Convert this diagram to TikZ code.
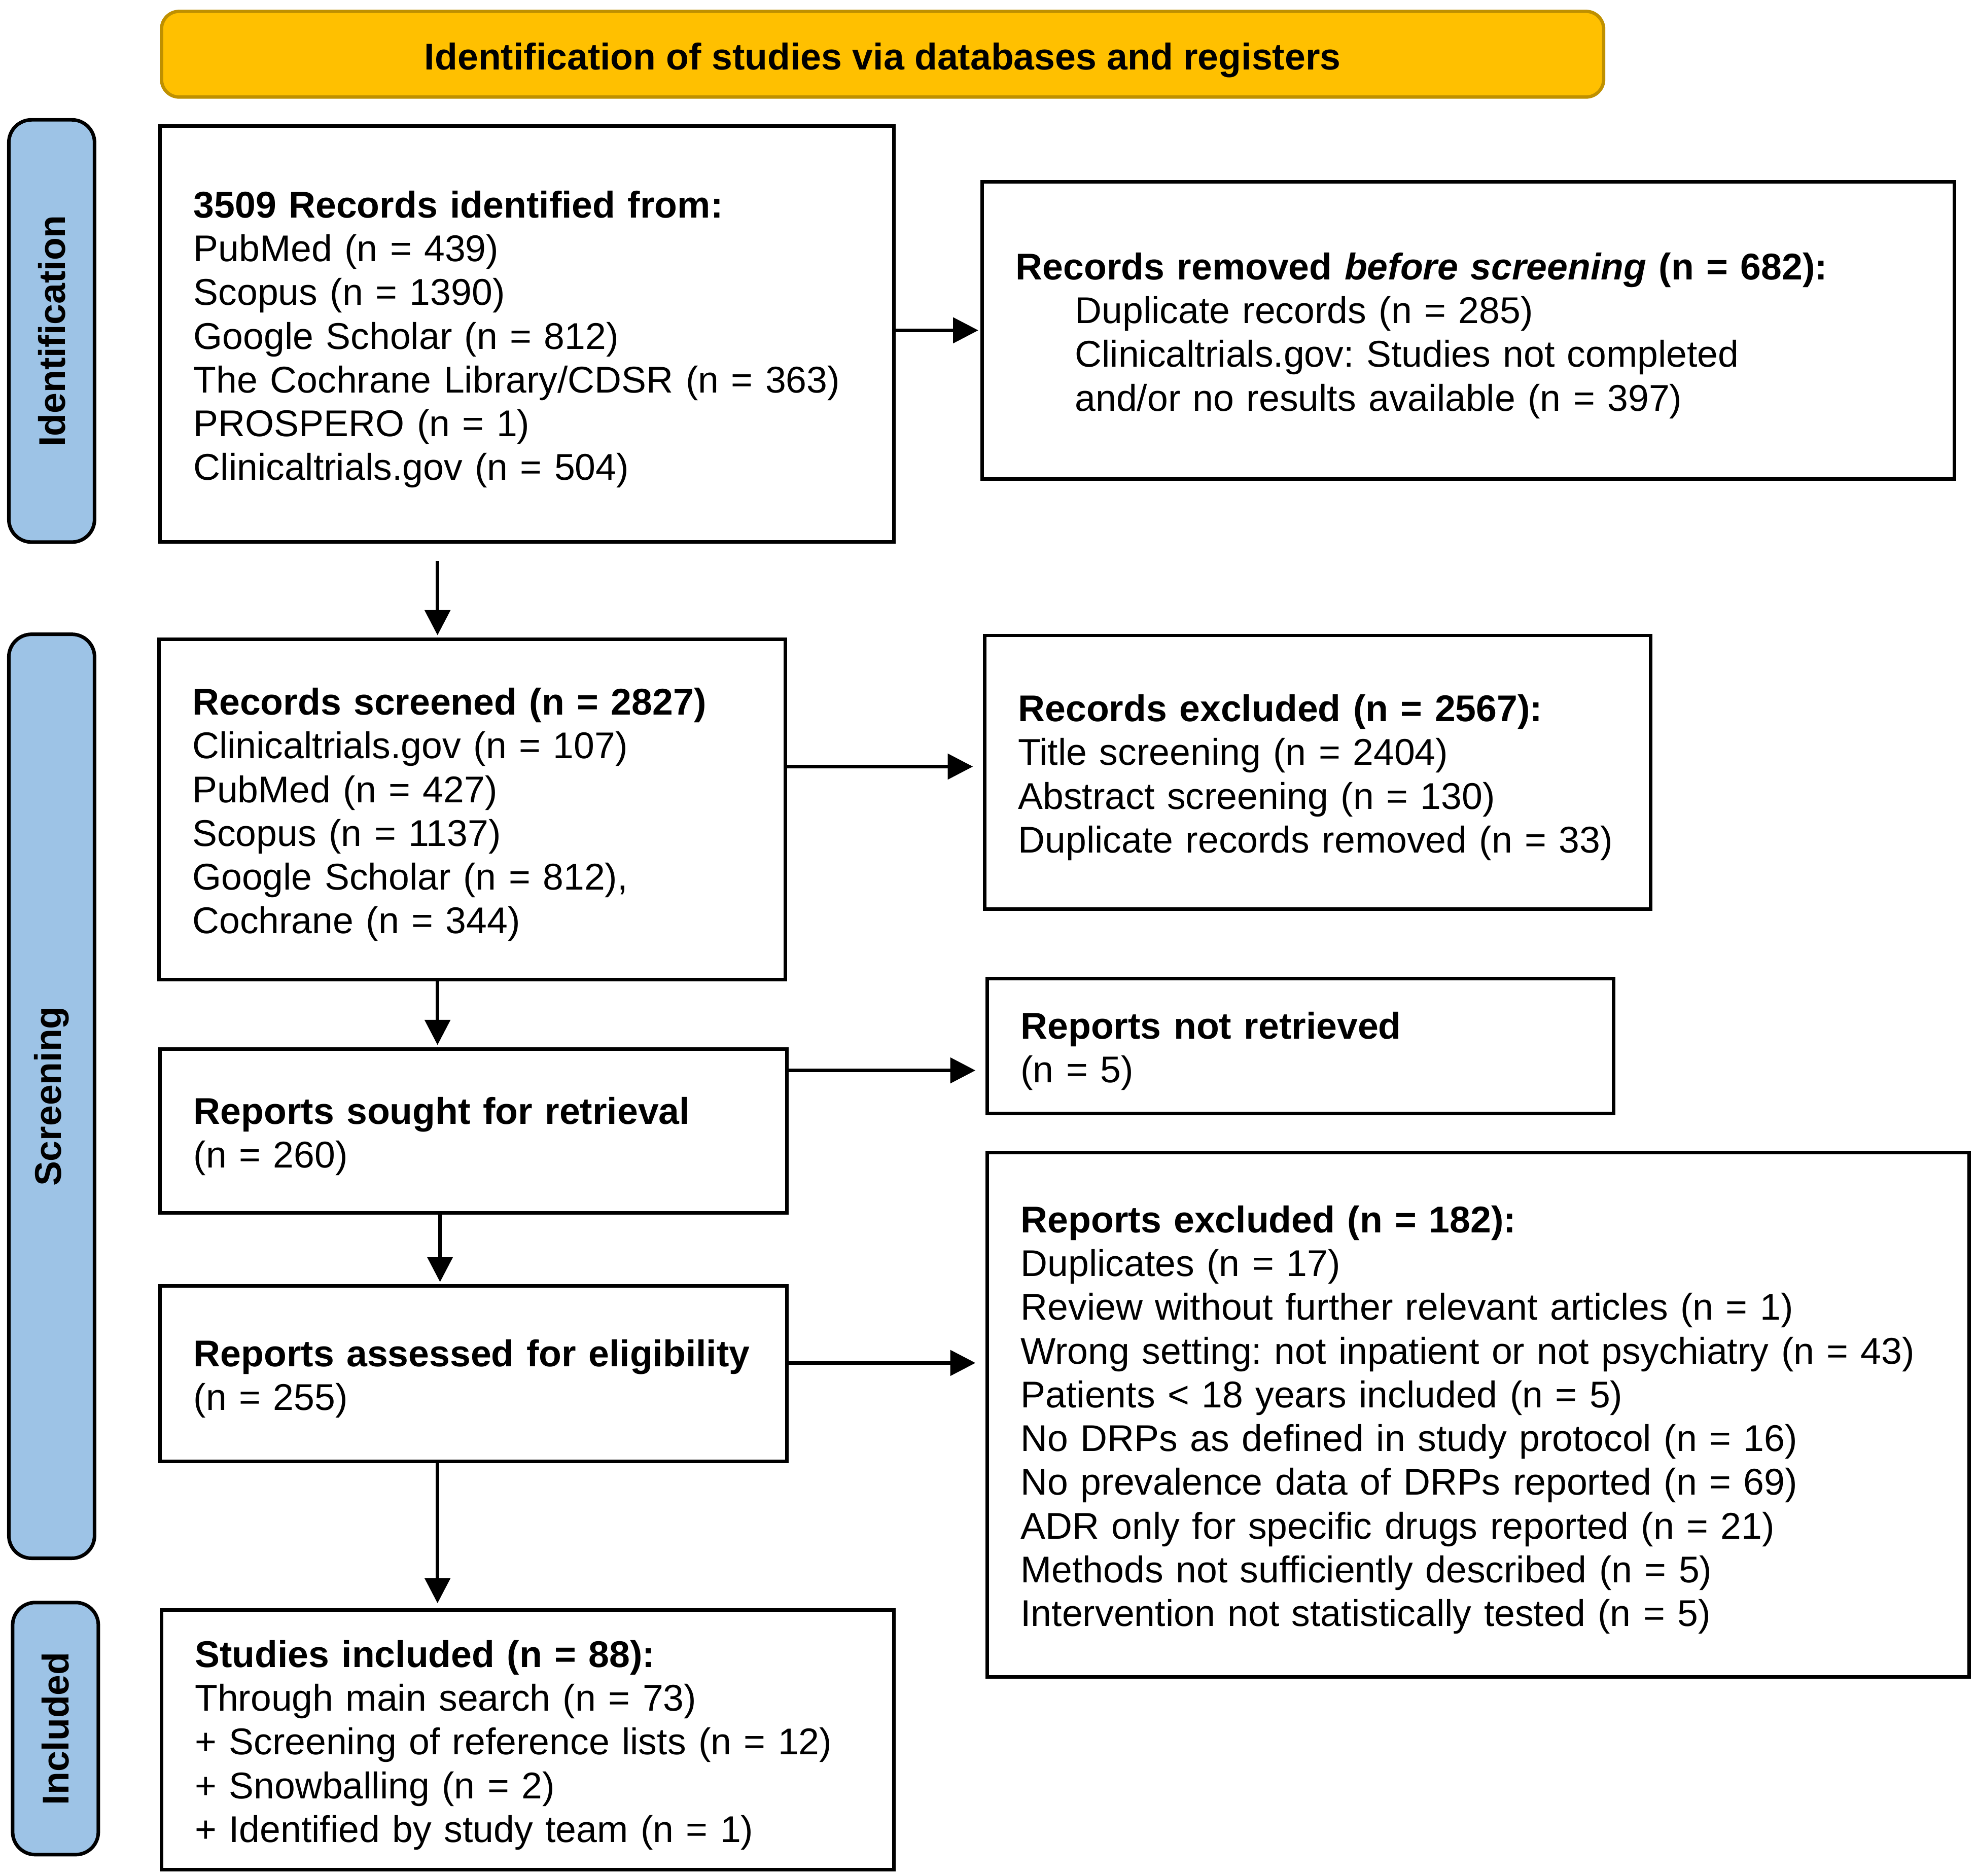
\documentclass[tikz,border=0pt]{standalone}
\usepackage{fontspec}
\setmainfont{Liberation Sans}
\usetikzlibrary{arrows.meta}
\definecolor{headfill}{HTML}{FFC000}
\definecolor{headline}{HTML}{BF9000}
\definecolor{phasefill}{HTML}{9DC3E6}
\tikzset{
  box/.style={draw, line width=1.6pt, align=left, inner xsep=0.53cm, inner ysep=0pt,
    font=\fontsize{16.8pt}{19.75pt}\selectfont\frenchspacing,
    execute at begin node={\rule{0pt}{16.9pt}}},
  phase/.style={draw, line width=1.6pt, fill=phasefill, rounded corners=0.36cm, rotate=90,
    minimum height=1.36cm, inner sep=0pt, font=\fontsize{16.8pt}{19.75pt}\selectfont\bfseries},
  arr/.style={line width=1.6pt, -{Triangle[length=0.4cm,width=0.4cm]}, shorten >=1pt}
}
\begin{document}
\begin{tikzpicture}[x=0.02cm, y=-0.02cm]
\useasboundingbox (0,0) rectangle (1568,1487.6);
% Header
\node[draw=headline, fill=headfill, line width=1.5pt, rounded corners=0.28cm,
  minimum width=22.88cm, minimum height=1.36cm, inner sep=0pt, text height=14.2pt, text depth=0pt,
  font=\fontsize{16.8pt}{19.75pt}\selectfont\bfseries] (head) at (700,43)
  {Identification of studies via databases and registers};
% Phases
\node[phase, minimum width=6.7cm] (ident) at (41,262.5) {Identification};
\node[phase, minimum width=14.66cm] (screen) at (41,869.5) {Screening};
\node[phase, minimum width=4.0cm] (incl) at (44,1371) {Included};
% Identification
\node[box, minimum width=11.64cm, minimum height=6.6cm, text width=10.58cm] (found) at (418,265)
  {\textbf{3509 Records identified from:}\\
   PubMed (n = 439)\\
   Scopus (n = 1390)\\
   Google Scholar (n = 812)\\
   The Cochrane Library/CDSR (n = 363)\\
   PROSPERO (n = 1)\\
   Clinicaltrials.gov (n = 504)};
\node[box, minimum width=15.42cm, minimum height=4.72cm, text width=14.36cm] (removed) at (1164.5,262)
  {\textbf{Records removed \textit{before screening} (n = 682):}\\
   \hspace*{0.94cm}Duplicate records (n = 285)\\
   \hspace*{0.94cm}Clinicaltrials.gov: Studies not completed\\
   \hspace*{0.94cm}and/or no results available (n = 397)};
% Screening
\node[box, minimum width=9.94cm, minimum height=5.4cm, text width=8.88cm] (screened) at (374.5,642)
  {\textbf{Records screened (n = 2827)}\\
   Clinicaltrials.gov (n = 107)\\
   PubMed (n = 427)\\
   Scopus (n = 1137)\\
   Google Scholar (n = 812),\\
   Cochrane (n = 344)};
\node[box, minimum width=10.56cm, minimum height=4.34cm, text width=9.5cm] (recexcl) at (1045,612.5)
  {\textbf{Records excluded (n = 2567):}\\
   Title screening (n = 2404)\\
   Abstract screening (n = 130)\\
   \mbox{Duplicate records removed (n = 33)}};
\node[box, minimum width=9.94cm, minimum height=2.6cm, text width=8.88cm] (sought) at (375.5,897)
  {\textbf{Reports sought for retrieval}\\
   (n = 260)};
\node[box, minimum width=9.94cm, minimum height=2.14cm, text width=8.88cm] (notretr) at (1031.5,829.5)
  {\textbf{Reports not retrieved}\\
   (n = 5)};
\node[box, minimum width=9.94cm, minimum height=2.78cm, text width=8.88cm] (assessed) at (375.5,1089.5)
  {\mbox{\textbf{Reports assessed for eligibility}}\\
   (n = 255)};
\node[box, minimum width=15.58cm, minimum height=8.32cm, text width=14.52cm] (repexcl) at (1172.5,1122)
  {\textbf{Reports excluded (n = 182):}\\
   Duplicates (n = 17)\\
   Review without further relevant articles (n = 1)\\
   \mbox{Wrong setting: not inpatient or not psychiatry (n = 43)}\\
   Patients < 18 years included (n = 5)\\
   No DRPs as defined in study protocol (n = 16)\\
   No prevalence data of DRPs reported (n = 69)\\
   ADR only for specific drugs reported (n = 21)\\
   Methods not sufficiently described (n = 5)\\
   Intervention not statistically tested (n = 5)};
% Included
\node[box, minimum width=11.62cm, minimum height=4.12cm, text width=10.56cm] (studies) at (418.5,1380)
  {\textbf{Studies included (n = 88):}\\
   Through main search (n = 73)\\
   + Screening of reference lists (n = 12)\\
   + Snowballing (n = 2)\\
   + Identified by study team (n = 1)};
% Arrows
\coordinate (a1) at (347,445);
\coordinate (a2) at (627,849);
\coordinate (a3) at (627,1081);
\coordinate (a4) at (627,608);
\coordinate (a5) at (349,962);
\draw[arr] (found.east |- removed.west) -- (removed.west);
\draw[arr] (a1) -- (a1 |- screened.north);
\draw[arr, shorten >=0.16cm] (screened.east |- a4) -- (recexcl.west |- a4);
\draw[arr] (screened.south -| a1) -- (sought.north -| a1);
\draw[arr, shorten >=0.16cm] (sought.east |- a2) -- (notretr.west |- a2);
\draw[arr] (sought.south -| a5) -- (assessed.north -| a5);
\draw[arr, shorten >=0.16cm] (assessed.east |- a3) -- (repexcl.west |- a3);
\draw[arr, shorten >=0.08cm] (assessed.south -| a1) -- (studies.north -| a1);
\end{tikzpicture}
\end{document}
